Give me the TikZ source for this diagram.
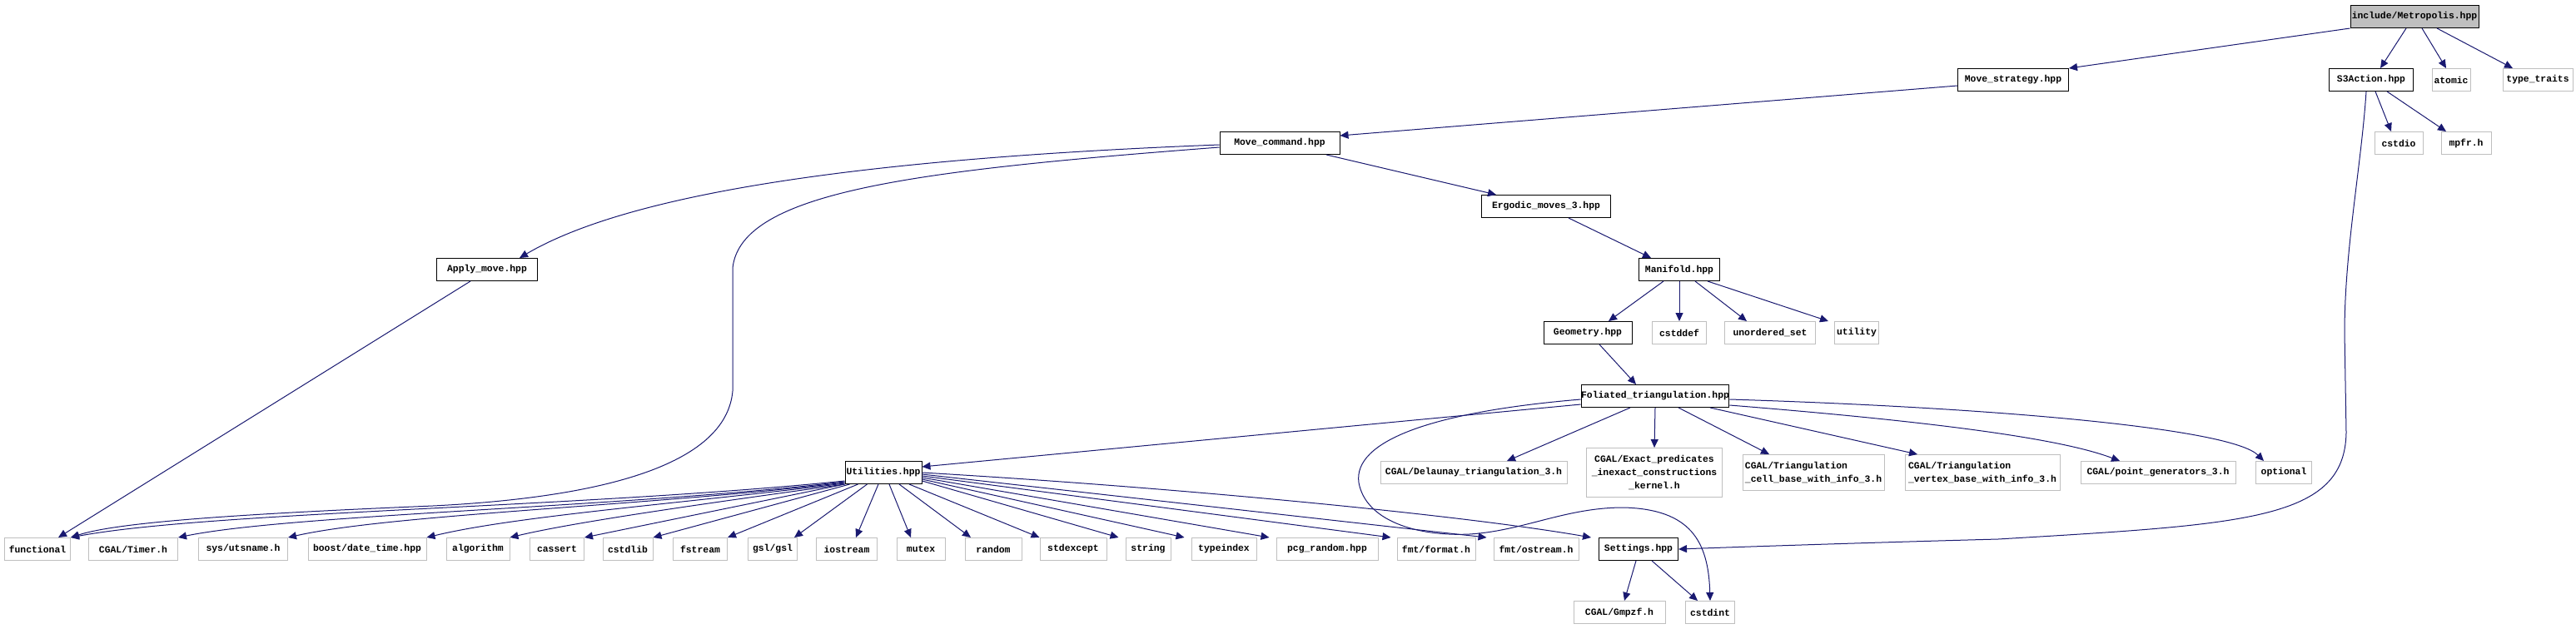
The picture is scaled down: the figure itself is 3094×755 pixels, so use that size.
\documentclass[tikz,border=0pt]{standalone}
\usepackage{fontspec}
\newfontfamily\doxyfont{Liberation Mono}
\usetikzlibrary{arrows.meta}
\definecolor{edgeblue}{HTML}{191970}
\definecolor{extgray}{HTML}{BFBFBF}

\begin{document}
\begin{tikzpicture}[x=1pt,y=1pt,
  hdr/.style={draw=black, line width=1pt, minimum height=27, inner sep=0pt, fill=white,
    font={\fontsize{11.4}{16}\doxyfont\bfseries}},
  ext/.style={hdr, draw=extgray},
  dep/.style={draw=edgeblue, line width=1pt, -{Triangle[length=10pt,width=9pt]}}]
  \useasboundingbox (0,0) rectangle (3094,-755);

  % project headers
  \node[hdr, fill=extgray, minimum width=154] (meta) at (2900,-20) {include/Metropolis.hpp};
  \node[hdr, minimum width=133] (mstrat) at (2418,-96) {Move\_strategy.hpp};
  \node[hdr, minimum width=101] (s3) at (2848,-96) {S3Action.hpp};
  \node[hdr, minimum width=144] (mcmd) at (1537,-172) {Move\_command.hpp};
  \node[hdr, minimum width=155] (ergo) at (1857,-248) {Ergodic\_moves\_3.hpp};
  \node[hdr, minimum width=121] (apply) at (585,-324) {Apply\_move.hpp};
  \node[hdr, minimum width=97] (mani) at (2017,-324) {Manifold.hpp};
  \node[hdr, minimum width=106] (geom) at (1907,-400) {Geometry.hpp};
  \node[hdr, minimum width=175] (fol) at (1988,-476) {Foliated\_triangulation.hpp};
  \node[hdr, minimum width=92] (utils) at (1061,-568) {Utilities.hpp};
  \node[hdr, minimum width=95] (settings) at (1968,-660) {Settings.hpp};

  % system and library headers
  \node[ext, minimum width=46] (atomic) at (2944,-96) {atomic};
  \node[ext, minimum width=84] (ttraits) at (3048,-96) {type\_traits};
  \node[ext, minimum width=58] (cstdio) at (2881,-172) {cstdio};
  \node[ext, minimum width=60] (mpfr) at (2962,-172) {mpfr.h};
  \node[ext, minimum width=65] (cstddef) at (2017,-400) {cstddef};
  \node[ext, minimum width=109] (uset) at (2126,-400) {unordered\_set};
  \node[ext, minimum width=53] (utility) at (2230,-400) {utility};
  \node[ext, minimum width=224] (delaunay) at (1770,-568) {CGAL/Delaunay\_triangulation\_3.h};
  \node[ext, minimum width=163, minimum height=59, align=center] (exact) at (1987,-568)
    {CGAL/Exact\_predicates\\\_inexact\_constructions\\\_kernel.h};
  \node[ext, minimum width=170, minimum height=43, align=left] (tcell) at (2178,-568)
    {CGAL/Triangulation\\\_cell\_base\_with\_info\_3.h};
  \node[ext, minimum width=186, minimum height=43, align=left] (tvert) at (2381,-568)
    {CGAL/Triangulation\\\_vertex\_base\_with\_info\_3.h};
  \node[ext, minimum width=186] (pgen) at (2592,-568) {CGAL/point\_generators\_3.h};
  \node[ext, minimum width=67] (optional) at (2743,-568) {optional};

  \node[ext, minimum width=79] (functional) at (45,-660) {functional};
  \node[ext, minimum width=107] (timer) at (160,-660) {CGAL/Timer.h};
  \node[ext, minimum width=107] (utsname) at (292,-660) {sys/utsname.h};
  \node[ext, minimum width=142] (datetime) at (441,-660) {boost/date\_time.hpp};
  \node[ext, minimum width=76] (algorithm) at (574,-660) {algorithm};
  \node[ext, minimum width=65] (cassert) at (669,-660) {cassert};
  \node[ext, minimum width=60] (cstdlib) at (754,-660) {cstdlib};
  \node[ext, minimum width=65] (fstream) at (841,-660) {fstream};
  \node[ext, minimum width=59] (gsl) at (928,-660) {gsl/gsl};
  \node[ext, minimum width=73] (iostream) at (1017,-660) {iostream};
  \node[ext, minimum width=58] (mutex) at (1106,-660) {mutex};
  \node[ext, minimum width=68] (random) at (1193,-660) {random};
  \node[ext, minimum width=80] (stdexcept) at (1289,-660) {stdexcept};
  \node[ext, minimum width=54] (string) at (1379,-660) {string};
  \node[ext, minimum width=78] (typeindex) at (1470,-660) {typeindex};
  \node[ext, minimum width=122] (pcg) at (1594,-660) {pcg\_random.hpp};
  \node[ext, minimum width=94] (fmtformat) at (1725,-660) {fmt/format.h};
  \node[ext, minimum width=102] (fmtostream) at (1845,-660) {fmt/ostream.h};
  \node[ext, minimum width=110] (gmpzf) at (1945,-736) {CGAL/Gmpzf.h};
  \node[ext, minimum width=59] (cstdint) at (2054,-736) {cstdint};

  % Metropolis.hpp
  \draw[dep] (meta.south west) -- (mstrat.north east);
  \draw[dep] ([xshift=-10]meta.south) -- ([xshift=11]s3.north);
  \draw[dep] ([xshift=9]meta.south) -- ([xshift=-6]atomic.north);
  \draw[dep] ([xshift=27]meta.south) -- ([xshift=-30]ttraits.north);
  \draw[dep] ([yshift=-7]mstrat.west) -- ([yshift=9]mcmd.east);

  % Move_command.hpp
  \draw[dep] ([xshift=56]mcmd.south) -- ([xshift=-60]ergo.north);
  \draw[dep] ([yshift=-2]mcmd.west) .. controls (1050,-190) and (760,-230) .. ([xshift=39]apply.north);
  \draw[dep] ([yshift=-5]mcmd.west) .. controls (1100,-205) and (890,-230) .. (880,-322)
    -- (880,-470) .. controls (872,-560) and (720,-598) .. (520,-608)
    .. controls (280,-618) and (140,-628) .. (functional.north east);
  \draw[dep] ([xshift=-20]apply.south) -- ([xshift=25]functional.north);

  % Manifold.hpp
  \draw[dep] ([xshift=27]ergo.south) -- ([xshift=-34]mani.north);
  \draw[dep] ([xshift=-19]mani.south) -- ([xshift=25]geom.north);
  \draw[dep] (mani.south) -- (cstddef.north);
  \draw[dep] ([xshift=19]mani.south) -- ([xshift=-28]uset.north);
  \draw[dep] ([xshift=34]mani.south) -- ([xshift=-34]utility.north);
  \draw[dep] ([xshift=14]geom.south) -- ([xshift=-23]fol.north);

  % Foliated_triangulation.hpp
  \draw[dep] ([yshift=-10]fol.west) -- ([yshift=-7]utils.north east);
  \draw[dep] ([yshift=-4]fol.west) .. controls (1720,-495) and (1625,-530) .. (1632,-580)
    .. controls (1640,-625) and (1700,-645) .. (1765,-642)
    .. controls (1830,-638) and (1880,-610) .. (1950,-610)
    .. controls (2030,-612) and (2052,-650) .. (cstdint.north);
  \draw[dep] ([xshift=-30]fol.south) -- ([xshift=40]delaunay.north);
  \draw[dep] (fol.south) -- (exact.north);
  \draw[dep] ([xshift=28]fol.south) -- ([xshift=-53]tcell.north);
  \draw[dep] ([xshift=66]fol.south) -- ([xshift=-78]tvert.north);
  \draw[dep] ([yshift=-11]fol.east) .. controls (2300,-505) and (2470,-525) .. ([xshift=-46]pgen.north);
  \draw[dep] ([yshift=-4]fol.east) .. controls (2400,-490) and (2680,-515) .. ([xshift=-24]optional.north);

  % S3Action.hpp and Settings.hpp
  \draw[dep] ([xshift=5]s3.south) -- ([xshift=-9]cstdio.north);
  \draw[dep] ([xshift=19]s3.south) -- ([xshift=-24]mpfr.north);
  \draw[dep] ([xshift=-6]s3.south) .. controls (2836,-200) and (2816,-300) .. (2816,-400)
    -- (2818,-520) .. controls (2816,-625) and (2700,-630) .. (2400,-648)
    .. controls (2250,-652) and (2100,-657) .. (settings.east);
  \draw[dep] ([xshift=-3]settings.south) -- ([xshift=6]gmpzf.north);
  \draw[dep] ([xshift=16]settings.south) -- ([xshift=-15]cstdint.north);

  % Utilities.hpp
  \draw[dep] ([yshift=-10]utils.west) .. controls (700,-610) and (250,-615) .. (functional.north east);
  \draw[dep] ([yshift=-11]utils.west) .. controls (750,-610) and (350,-618) .. (timer.north east);
  \draw[dep] ([yshift=-12]utils.west) .. controls (780,-608) and (470,-618) .. (utsname.north east);
  \draw[dep] ([yshift=-13]utils.west) .. controls (820,-605) and (620,-620) .. (datetime.north east);
  \draw[dep] (utils.south west) .. controls (900,-598) and (700,-625) .. (algorithm.north east);
  \draw[dep] (utils.south west) -- (cassert.north east);
  \draw[dep] ([xshift=6]utils.south west) -- (cstdlib.north east);
  \draw[dep] ([xshift=16]utils.south west) -- (fstream.north east);
  \draw[dep] ([xshift=27]utils.south west) -- ([xshift=-4]gsl.north east);
  \draw[dep] ([xshift=-6]utils.south) -- ([xshift=11]iostream.north);
  \draw[dep] ([xshift=7]utils.south) -- ([xshift=-12]mutex.north);
  \draw[dep] ([xshift=19]utils.south) -- ([xshift=-27]random.north);
  \draw[dep] ([xshift=31]utils.south) -- (stdexcept.north west);
  \draw[dep] ([yshift=-10]utils.east) -- ([xshift=-8]string.north west);
  \draw[dep] ([yshift=-8]utils.east) -- ([xshift=-8]typeindex.north west);
  \draw[dep] ([yshift=-6]utils.east) -- ([xshift=-8]pcg.north west);
  \draw[dep] ([yshift=-4]utils.east) -- ([xshift=-7]fmtformat.north west);
  \draw[dep] ([yshift=-2]utils.east) -- ([xshift=-8]fmtostream.north west);
  \draw[dep] (utils.east) .. controls (1400,-585) and (1750,-618) .. ([xshift=-9]settings.north west);
\end{tikzpicture}
\end{document}
